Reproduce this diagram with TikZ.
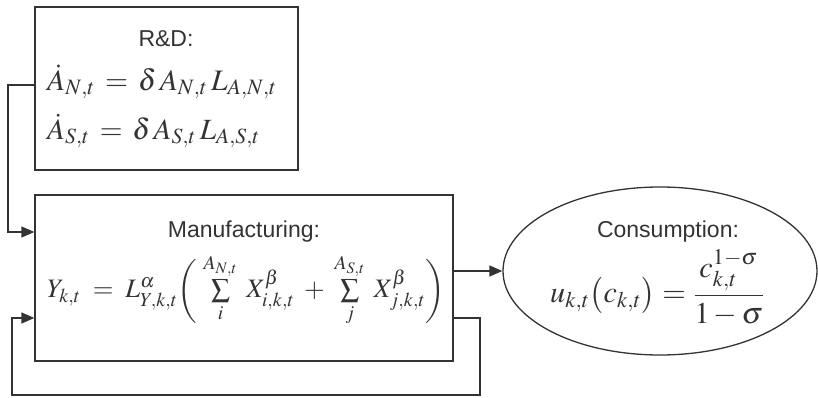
\documentclass[tikz,border=0pt]{standalone}
\usepackage{mathptmx}
\usepackage{amsmath}
\usepackage{graphicx}
\usepackage[no-math]{fontspec}
\setsansfont{Liberation Sans}
\usetikzlibrary{arrows.meta,shapes.geometric}
\definecolor{ink}{HTML}{333333}
\tikzset{
  box/.style={draw=ink, line width=1.3pt, rectangle, inner sep=0pt},
  oval/.style={draw=ink, line width=1.3pt, ellipse, inner sep=0pt},
  lbl/.style={text=ink, font=\sffamily\fontsize{23}{26}\selectfont, inner sep=0pt},
  eq/.style={text=ink, font=\fontsize{17}{20}\selectfont, inner sep=0pt},
  conn/.style={draw=ink, line width=1.3pt, -{Triangle[length=13pt,width=11pt]}},
}
\begin{document}
\begin{tikzpicture}[x=1pt,y=-1pt]
\useasboundingbox (0,0) rectangle (818,398);
% boxes
\node[box, minimum width=263pt, minimum height=163pt] (rd) at (166.5,88.5) {};
\node[box, minimum width=418pt, minimum height=166pt] (mf) at (244,278) {};
\node[oval, minimum width=314pt, minimum height=168pt] (cs) at (660,271) {};
% texts
\node[lbl] (rdl) at (166,39) {R\&D:};
\node[eq, anchor=west] (rde1) at (47,82) {\resizebox{230pt}{!}{$\dot A_{N,t} \,=\, \delta\, A_{N,t}\, L_{A,N,t}$}};
\node[eq, anchor=west] (rde2) at (47,131) {\resizebox{213pt}{!}{$\dot A_{S,t} \,=\, \delta\, A_{S,t}\, L_{A,S,t}$}};
\node[lbl] (mfl) at (244,232) {Manufacturing:};
\node[eq, anchor=west] (mfe) at (47,290) {\resizebox{398pt}{!}{$Y_{k,t} \;=\; L^{\alpha}_{Y,k,t}\biggl(\;\sum\limits_{i}^{A_{N,t}}\; X^{\beta}_{i,k,t} \;+\; \sum\limits_{j}^{A_{S,t}}\; X^{\beta}_{j,k,t}\biggr)$}};
\node[lbl] (csl) at (668,232) {Consumption:};
\node[eq, anchor=west] (cse) at (550,288) {\resizebox{215pt}{!}{$u_{k,t}\bigl(c_{k,t}\bigr) = \dfrac{c_{k,t}^{1-\sigma}}{1-\sigma}$}};
% connectors
\coordinate (a1) at (8,85);
\coordinate (a2) at (8,232);
\draw[conn] (rd.west |- a1) -- (a1) -- (a2) -- (mf.west |- a2);
\draw[conn] (mf.east |- cs.west) -- (cs.west);
\coordinate (b1) at (480,318);
\coordinate (b2) at (480,395);
\coordinate (b3) at (12,395);
\coordinate (b4) at (12,318);
\draw[conn] (mf.east |- b1) -- (b1) -- (b2) -- (b3) -- (b4) -- (mf.west |- b4);
\end{tikzpicture}
\end{document}
